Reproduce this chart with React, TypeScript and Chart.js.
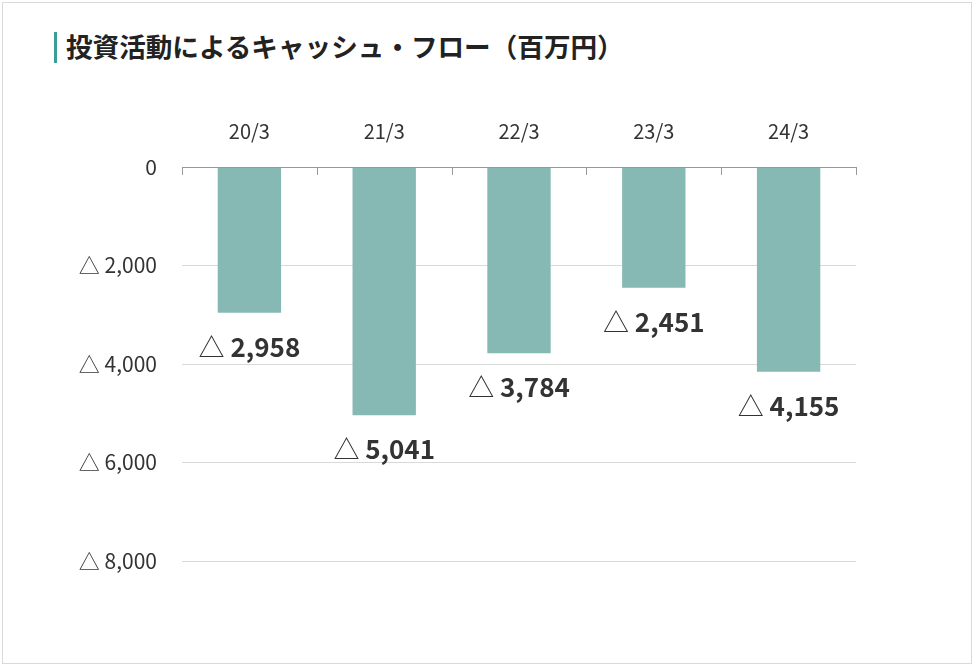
import React, { useEffect, useRef } from "react";
import { Chart, registerables } from "chart.js";

Chart.register(...registerables);

const categories = ["20/3", "21/3", "22/3", "23/3", "24/3"];
const values = [-2958, -5041, -3784, -2451, -4155];
const yMin = -8000;
const yMax = 0;
const yStep = 2000;

const FONT = '"Noto Sans CJK JP", "Noto Sans", sans-serif';
const TEXT = "#333333";

const fmt = (n: number) => Math.abs(n).toLocaleString("en-US");

const labelPlugin = {
  id: "labels",
  afterDatasetsDraw(chart: any) {
    const ctx = chart.ctx;
    const meta = chart.getDatasetMeta(0);
    ctx.save();
    meta.data.forEach((bar: any, i: number) => {
      const v = values[i];
      const tri = v < 0 ? "△" : "";
      const num = fmt(v);
      ctx.font = `400 26px ${FONT}`;
      const wTri = tri ? ctx.measureText(tri + " ").width : 0;
      ctx.font = `700 26px ${FONT}`;
      const wNum = ctx.measureText(num).width;
      const total = wTri + wNum;
      const x0 = bar.x - total / 2;
      const y = bar.y + 34;
      ctx.fillStyle = TEXT;
      ctx.textBaseline = "middle";
      ctx.textAlign = "left";
      if (tri) {
        ctx.font = `400 26px ${FONT}`;
        ctx.fillText(tri, x0, y);
      }
      ctx.font = `700 26px ${FONT}`;
      ctx.fillText(num, x0 + wTri, y);
    });
    ctx.restore();
  },
};

const tickPlugin = {
  id: "zeroTicks",
  afterDraw(chart: any) {
    const ctx = chart.ctx;
    const x = chart.scales.x;
    const y = chart.scales.y;
    const y0 = y.getPixelForValue(0);
    ctx.save();
    ctx.strokeStyle = "#999999";
    ctx.lineWidth = 1;
    ctx.beginPath();
    for (let i = 0; i <= categories.length; i++) {
      const px = Math.round(x.getPixelForValue(i - 0.5)) + 0.5;
      ctx.moveTo(px, y0);
      ctx.lineTo(px, y0 + 8);
    }
    ctx.moveTo(chart.chartArea.left, Math.round(y0) + 0.5);
    ctx.lineTo(chart.chartArea.right, Math.round(y0) + 0.5);
    ctx.stroke();
    ctx.restore();
  },
};

export default function App() {
  const ref = useRef<HTMLCanvasElement>(null);
  useEffect(() => {
    if (!ref.current) return;
    const chart = new Chart(ref.current, {
      type: "bar",
      data: {
        labels: categories,
        datasets: [
          {
            data: values,
            backgroundColor: "#86b9b4",
            barPercentage: 0.47,
            categoryPercentage: 1,
          },
        ],
      },
      options: {
        animation: false,
        responsive: false,
        maintainAspectRatio: false,
        layout: { padding: { left: 0, right: 120, top: 100, bottom: 106 } },
        plugins: { legend: { display: false }, tooltip: { enabled: false } },
        scales: {
          x: {
            position: "top",
            offset: true,
            grid: { display: false, drawTicks: false },
            border: { display: false },
            ticks: {
              color: TEXT,
              font: { family: FONT, size: 20 },
              padding: 24,
            },
            afterFit(scale: any) {
              scale.height = 67;
            },
          },
          y: {
            min: yMin,
            max: yMax,
            grid: {
              color: (c: any) => (c.tick && c.tick.value === 0 ? "#999999" : "#d9d9d9"),
              drawTicks: false,
            },
            border: { display: false },
            ticks: {
              stepSize: yStep,
              color: TEXT,
              font: { family: FONT, size: 21 },
              padding: 25,
              callback: (v: any) => (v === 0 ? "0" : "△ " + fmt(Number(v))),
            },
            afterFit(scale: any) {
              scale.width = 182;
            },
          },
        },
      },
      plugins: [labelPlugin, tickPlugin],
    });
    return () => chart.destroy();
  }, []);

  return (
    <div
      style={{
        position: "fixed",
        left: 0,
        top: 0,
        width: 976,
        height: 667,
        background: "#ffffff",
        overflow: "hidden",
      }}
    >
      <div
        style={{
          position: "absolute",
          left: 2,
          top: 2,
          width: 968,
          height: 660,
          border: "1px solid #d9d9d9",
        }}
      />
      <div
        style={{
          position: "absolute",
          left: 54,
          top: 32,
          width: 3,
          height: 31,
          background: "#3a9e96",
        }}
      />
      <div
        style={{
          position: "absolute",
          left: 66,
          top: 33,
          fontFamily: FONT,
          fontWeight: 700,
          fontSize: 26.6,
          lineHeight: "26px",
          color: "#222222",
          whiteSpace: "nowrap",
        }}
      >
        投資活動によるキャッシュ・フロー（百万円）
      </div>
      <canvas
        ref={ref}
        width={976}
        height={667}
        style={{ position: "absolute", left: 0, top: 0, width: 976, height: 667 }}
      />
    </div>
  );
}
